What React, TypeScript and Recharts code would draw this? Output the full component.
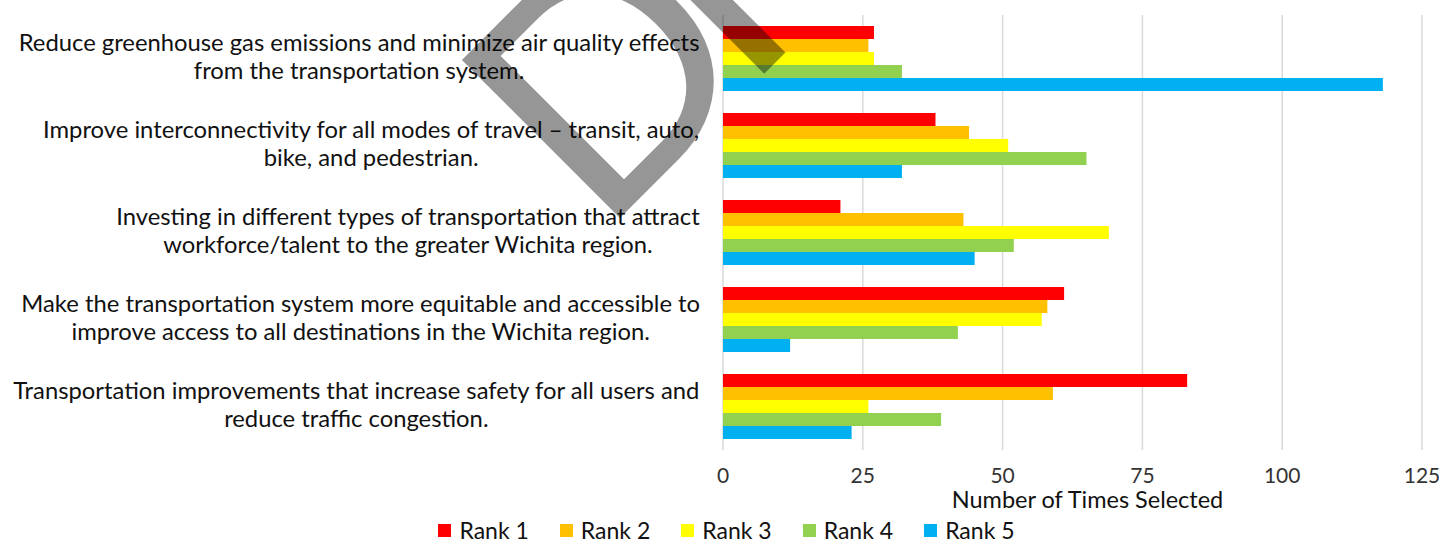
import { BarChart, Bar, XAxis, YAxis, CartesianGrid, Legend } from "recharts";

// Category labels, already wrapped the way the source chart wraps them
const categoryLines: string[][] = [
  ["Reduce greenhouse gas emissions and minimize air quality effects", "from the transportation system."],
  ["Improve interconnectivity for all modes of travel – transit, auto,", "bike, and pedestrian."],
  ["Investing in different types of transportation that attract", "workforce/talent to the greater Wichita region."],
  ["Make the transportation system more equitable and accessible to", "improve access to all destinations in the Wichita region."],
  ["Transportation improvements that increase safety for all users and", "reduce traffic congestion."],
];

const rank1 = [27, 38, 21, 61, 83];
const rank2 = [26, 44, 43, 58, 59];
const rank3 = [27, 51, 69, 57, 26];
const rank4 = [32, 65, 52, 42, 39];
const rank5 = [118, 32, 45, 12, 23];

const seriesNames = ["Rank 1", "Rank 2", "Rank 3", "Rank 4", "Rank 5"];
const seriesColors = ["#FF0000", "#FFC000", "#FFFF00", "#92D050", "#00B0F0"];
const xTicks = [0, 25, 50, 75, 100, 125];

const FONT = "Lato";
const LABEL_SIZE = 23.8;
const MARK_SIZE = 312;

const data = categoryLines.map((lines, i) => ({
  name: lines.join("\n"),
  r1: rank1[i],
  r2: rank2[i],
  r3: rank3[i],
  r4: rank4[i],
  r5: rank5[i],
}));

let measureCtx: CanvasRenderingContext2D | null = null;
function measure(s: string, size: number) {
  if (!measureCtx) measureCtx = document.createElement("canvas").getContext("2d");
  if (!measureCtx) return { width: s.length * size * 0.5, left: 0 };
  measureCtx.font = `${size}px ${FONT}`;
  const m = measureCtx.measureText(s);
  return { width: m.width, left: -m.actualBoundingBoxLeft };
}

// Two-line label: block right-aligned to the axis, lines centred inside it
function CategoryTick(props: any) {
  const { y, payload } = props;
  const lines: string[] = String(payload.value).split("\n");
  const maxW = Math.max(...lines.map((l) => measure(l, LABEL_SIZE).width));
  const cx = 700 - maxW / 2;
  return (
    <g>
      {lines.map((l, i) => (
        <text
          key={i}
          x={cx}
          y={y - 8 + i * 28}
          textAnchor="middle"
          fontSize={LABEL_SIZE}
          fontFamily={FONT}
          fill="#111"
        >
          {l}
        </text>
      ))}
    </g>
  );
}

function LegendContent() {
  return (
    <div
      style={{
        display: "flex",
        justifyContent: "center",
        alignItems: "center",
        height: 24,
        paddingLeft: 31,
        fontFamily: FONT,
        fontSize: 23,
        color: "#111",
      }}
    >
      {seriesNames.map((n, i) => (
        <div key={n} style={{ display: "flex", alignItems: "center", marginRight: i < 4 ? 31 : 0 }}>
          <span style={{ width: 13, height: 13, background: seriesColors[i], marginRight: 8, display: "inline-block" }} />
          <span>{n}</span>
        </div>
      ))}
    </div>
  );
}

// Diagonal "DRAFT" stamp: place the D stem corner and the R stem corner where the source has them
function Watermark() {
  const d = measure("D", MARK_SIZE);
  const r = measure("R", MARK_SIZE);
  const k = Math.SQRT1_2;
  const cornerD = { x: 617, y: 221 };
  const gap = 204; // distance along the baseline from D stem to R stem
  const spacing = gap - (d.width - d.left + r.left);
  const ox = cornerD.x - d.left * k;
  const oy = cornerD.y + d.left * k;
  return (
    <svg width={1439} height={542} style={{ position: "absolute", left: 0, top: 0, pointerEvents: "none" }}>
      <text
        x={ox}
        y={oy}
        transform={`rotate(-45 ${ox} ${oy})`}
        fontSize={MARK_SIZE}
        fontFamily={FONT}
        letterSpacing={spacing}
        fill="#000"
        fillOpacity={0.41}
      >
        DRAFT
      </text>
    </svg>
  );
}

export default function App() {
  return (
    <div style={{ position: "relative", width: 1439, height: 542, fontFamily: FONT, background: "#fff" }}>
      <style>{`body{margin:0}`}</style>
      <BarChart
        width={1439}
        height={542}
        data={data}
        layout="vertical"
        margin={{ top: 15, right: 17, bottom: 0, left: 0 }}
        barCategoryGap={11}
        barGap={0}
      >
        <CartesianGrid horizontal={false} stroke="#d9d9d9" strokeWidth={1.5} />
        <XAxis
          type="number"
          domain={[0, 125]}
          ticks={xTicks}
          axisLine={false}
          tickLine={false}
          tickMargin={12}
          height={68}
          tick={{ fontSize: 21, fill: "#333", fontFamily: FONT }}
          label={{
            value: "Number of Times Selected",
            position: "insideBottom",
            offset: 10,
            dx: 15,
            fontSize: 23.5,
            fill: "#111",
            fontFamily: FONT,
          }}
        />
        <YAxis
          type="category"
          dataKey="name"
          width={723}
          axisLine={false}
          tickLine={false}
          interval={0}
          tick={<CategoryTick />}
        />
        <Legend verticalAlign="bottom" content={<LegendContent />} />
        <Bar dataKey="r1" name={seriesNames[0]} fill={seriesColors[0]} isAnimationActive={false} />
        <Bar dataKey="r2" name={seriesNames[1]} fill={seriesColors[1]} isAnimationActive={false} />
        <Bar dataKey="r3" name={seriesNames[2]} fill={seriesColors[2]} isAnimationActive={false} />
        <Bar dataKey="r4" name={seriesNames[3]} fill={seriesColors[3]} isAnimationActive={false} />
        <Bar dataKey="r5" name={seriesNames[4]} fill={seriesColors[4]} isAnimationActive={false} />
      </BarChart>
      <Watermark />
    </div>
  );
}
